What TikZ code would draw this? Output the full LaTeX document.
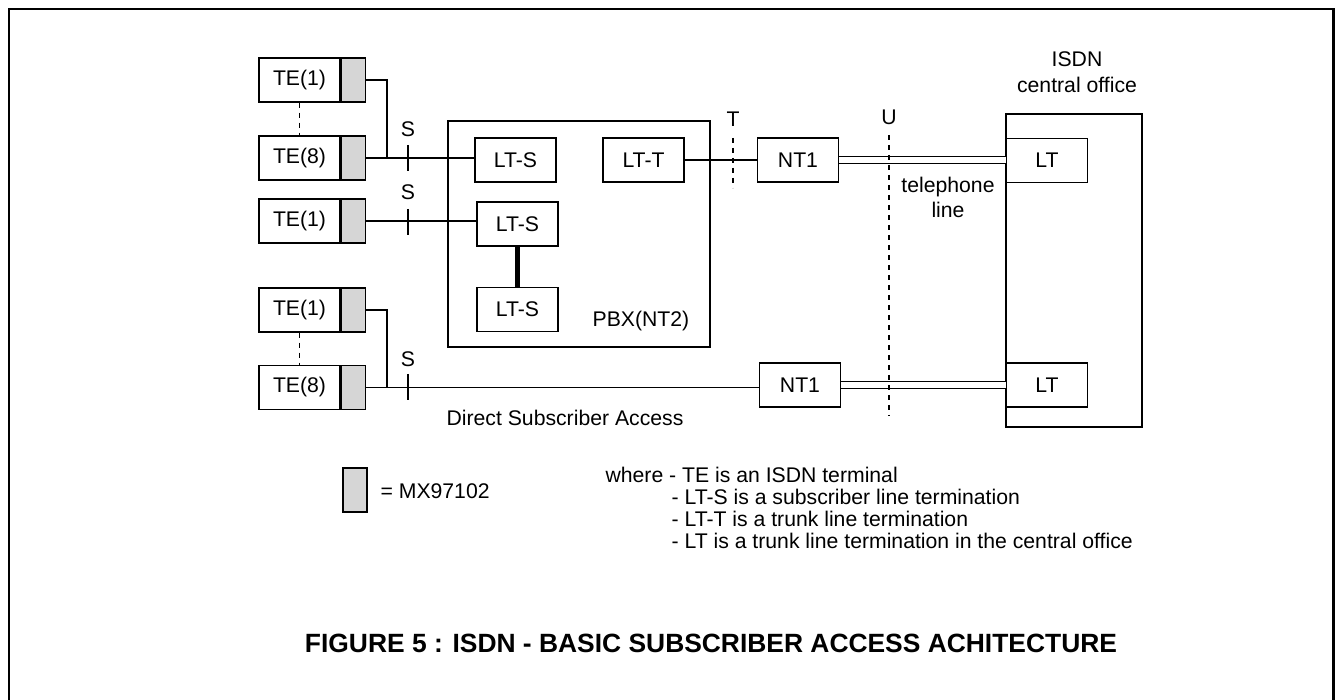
\documentclass[tikz,border=0pt]{standalone}
\usepackage{fontspec}
\setmainfont{Liberation Sans}
\usepackage{tikz}

\begin{document}
\begin{tikzpicture}[x=0.5pt, y=-0.5pt, line width=0.6pt,
  every node/.style={font=\fontsize{10.6}{12}\selectfont},
  box/.style={draw, rectangle, inner sep=0pt, minimum width=40.5pt, minimum height=22pt},
  mxbox/.style={draw, fill=black!16, inner sep=0pt, minimum width=12pt, minimum height=22pt},
  lbl/.style={inner sep=0pt, anchor=base},
  refline/.style={dash pattern=on 2.5pt off 2.5pt}]
\useasboundingbox (0,0) rectangle (1335,700);
\draw[line width=1.2pt] (9,720) -- (9,9) -- (1333.5,9) -- (1333.5,720);

\foreach \n/\t/\y in {a/1/80, b/8/158, c/1/221, d/1/310, e/8/387.5}{
  \node[box] (te-\n) at (299.5,\y) {TE(\t)};
  \node[mxbox, anchor=west] (mx-\n) at (te-\n.east) {};
}
\draw[refline] (te-a.south) -- (te-b.north);
\draw[refline] (te-d.south) -- (te-e.north);

\node[draw, minimum width=131pt, minimum height=113pt] (pbx) at (579,234) {};
\node[lbl] (pbxtext) at (641,327) {PBX(NT2)};
\node[box] (lts1) at (515.5,160) {LT-S};
\node[box] (lts2) at (517.5,224) {LT-S};
\node[box] (lts3) at (517.5,309.5) {LT-S};
\node[box] (ltt) at (643.5,160) {LT-T};
\node[box] (nt1a) at (798,160) {NT1};
\node[box] (nt1b) at (800,385) {NT1};
\node[draw, minimum width=68pt, minimum height=156.5pt] (co) at (1074,270.5) {};
\node[box] (lta) at (1047,160.5) {LT};
\node[box] (ltb) at (1047,385) {LT};

\coordinate (ja) at (387,158);
\coordinate (jb) at (387,387.5);
\draw (mx-a.east) -| (ja);
\draw (mx-b.east) -- (mx-b.east -| lts1.west);
\draw (mx-c.east) -- (mx-c.east -| lts2.west);
\draw (mx-d.east) -| (jb);
\draw (mx-e.east) -- (mx-e.east -| nt1b.west);
\draw[line width=2.4pt] (lts2.south) -- (lts3.north);
\draw (ltt.east) -- (nt1a.west);
\draw[double, double distance=3pt] (nt1a.east) -- (nt1a.east -| lta.west);
\draw[double, double distance=3pt] (nt1b.east) -- (nt1b.east -| ltb.west);

\foreach \y/\b in {158/137, 222/200, 387/367}{
  \draw (408,\y-13) -- (408,\y+13);
  \node[lbl] at (408,\b) {S};
}
\coordinate (tp) at (733,138);
\coordinate (up) at (889,135);
\draw[refline] (tp) -- ++(0,50);
\draw[refline] (up) -- ++(0,281);
\node[lbl] (tlabel) at (733,127) {T};
\node[lbl] (ulabel) at (889,125) {U};
\node[lbl] (tel1) at (948,193) {telephone};
\node[lbl] (tel2) at (948,218) {line};
\node[lbl] (isdn) at (1077,67) {ISDN};
\node[lbl] (office) at (1077,93) {central office};
\node[lbl] (direct) at (565,426) {Direct Subscriber Access};

\node[mxbox] (key) at (355,490) {};
\node[lbl, anchor=base west] (keytext) at (380,499) {= MX97102};
\node[lbl, anchor=base west] (where) at (605,482) {where - TE is an ISDN terminal};
\node[lbl, anchor=base west] (w2) at (671,504) {- LT-S is a subscriber line termination};
\node[lbl, anchor=base west] (w3) at (671,526) {- LT-T is a trunk line termination};
\node[lbl, anchor=base west] (w4) at (671,548) {- LT is a trunk line termination in the central office};

\node[lbl, font=\bfseries\fontsize{13.2}{15}\selectfont] (title) at (711,652)
  {FIGURE 5 : ISDN - BASIC SUBSCRIBER ACCESS ACHITECTURE};
\end{tikzpicture}
\end{document}
